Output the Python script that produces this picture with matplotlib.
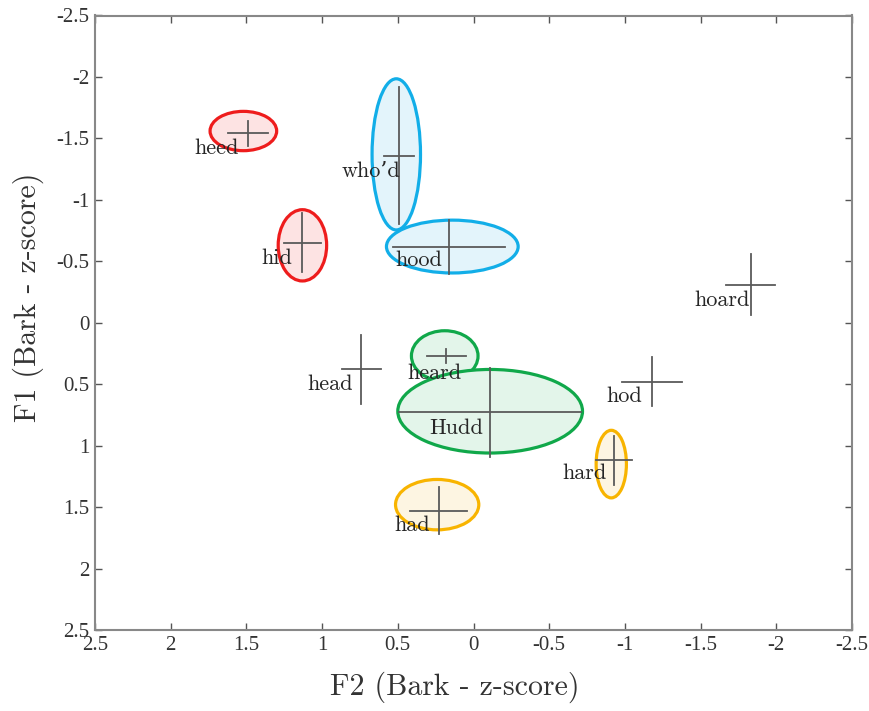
import matplotlib
matplotlib.use("Agg")
import matplotlib.pyplot as plt
from matplotlib.patches import Ellipse

# ---- data ----
words = ["heed", "hid", "who'd", "hood", "hoard", "hod", "hard", "head", "heard", "Hudd", "had"]
f2_mean = [1.49, 1.13, 0.49, 0.16, -1.83, -1.18, -0.93, 0.74, 0.18, -0.11, 0.23]
f1_mean = [-1.54, -0.65, -1.36, -0.62, -0.31, 0.48, 1.12, 0.38, 0.27, 0.73, 1.53]
f2_err = [0.13, 0.12, 0.10, 0.37, 0.16, 0.20, 0.12, 0.13, 0.13, 0.60, 0.19]
f1_err = [0.10, 0.24, 0.56, 0.22, 0.25, 0.20, 0.20, 0.28, 0.06, 0.36, 0.19]

ell_words = ["heed", "hid", "who'd", "hood", "heard", "Hudd", "hard", "had"]
ell_f2 = [1.52, 1.13, 0.51, 0.14, 0.19, -0.11, -0.91, 0.24]
ell_f1 = [-1.56, -0.63, -1.37, -0.62, 0.27, 0.72, 1.15, 1.48]
ell_w = [0.44, 0.32, 0.32, 0.87, 0.44, 1.22, 0.20, 0.55]
ell_h = [0.32, 0.58, 1.23, 0.43, 0.41, 0.68, 0.55, 0.41]
ell_group = ["front", "front", "back", "back", "central", "central", "open", "open"]

xticks = [2.5, 2, 1.5, 1, 0.5, 0, -0.5, -1, -1.5, -2, -2.5]
yticks = [-2.5, -2, -1.5, -1, -0.5, 0, 0.5, 1, 1.5, 2, 2.5]

# ---- style ----
edge_col = {"front": "#ee1c1c", "back": "#12aee8", "central": "#10a84a", "open": "#f8b400"}
fill_col = {"front": "#fde3e3", "back": "#e3f4fb", "central": "#e3f5ea", "open": "#fdf5e2"}
label_off = [(-9, -15), (-10, -15), (1, -16), (-7, -14), (-1, -16), (-10, -15),
             (-8, -13), (-8, -15), (15, -17), (-7, -16), (-9, -14)]

fig = plt.figure(figsize=(8.69, 7.11), dpi=100)
ax = fig.add_axes([95/869, 1-630/711, (852-95)/869, (630-15.5)/711])

for x, y, w, h, g in zip(ell_f2, ell_f1, ell_w, ell_h, ell_group):
    ax.add_patch(Ellipse((x, y), w, h, facecolor=fill_col[g], edgecolor=edge_col[g],
                         lw=2.3, zorder=2))

for i, wd in enumerate(words):
    x, y = f2_mean[i], f1_mean[i]
    ax.plot([x - f2_err[i], x + f2_err[i]], [y, y], color="#5a5a5a", lw=1.3, zorder=3)
    ax.plot([x, x], [y - f1_err[i], y + f1_err[i]], color="#5a5a5a", lw=1.3, zorder=3)
    ax.annotate(wd.replace("'", "\u2019"), (x, y), xytext=label_off[i], textcoords="offset pixels",
                ha="right", va="center", fontsize=16, color="#262626",
                family=["cmr10", "DejaVu Serif"], zorder=4)

ax.set_xlim(2.5, -2.5)
ax.set_ylim(2.5, -2.5)
ax.set_xticks(xticks)
ax.set_yticks(yticks)
ax.set_xticklabels([f"{t:g}" for t in xticks], family="Liberation Serif", fontsize=15)
ax.set_yticklabels([f"{t:g}" for t in yticks], family="Liberation Serif", fontsize=15)
ax.tick_params(direction="in", top=True, right=True, length=5, width=1, color="#555555",
               pad=4, labelcolor="#333333")
for s in ax.spines.values():
    s.set_color("#888888")
    s.set_linewidth(1.5)

ax.set_xlabel("F2 (Bark - z-score)", family=["cmr10", "DejaVu Serif"], fontsize=21.5,
              color="#333333")
ax.set_ylabel("F1 (Bark - z-score)", family=["cmr10", "DejaVu Serif"], fontsize=21.5,
              color="#333333")
ax.xaxis.set_label_coords(0.4756, -0.068)
ax.yaxis.set_label_coords(-0.067, 0.542)

fig.savefig("out.png", dpi=100)
